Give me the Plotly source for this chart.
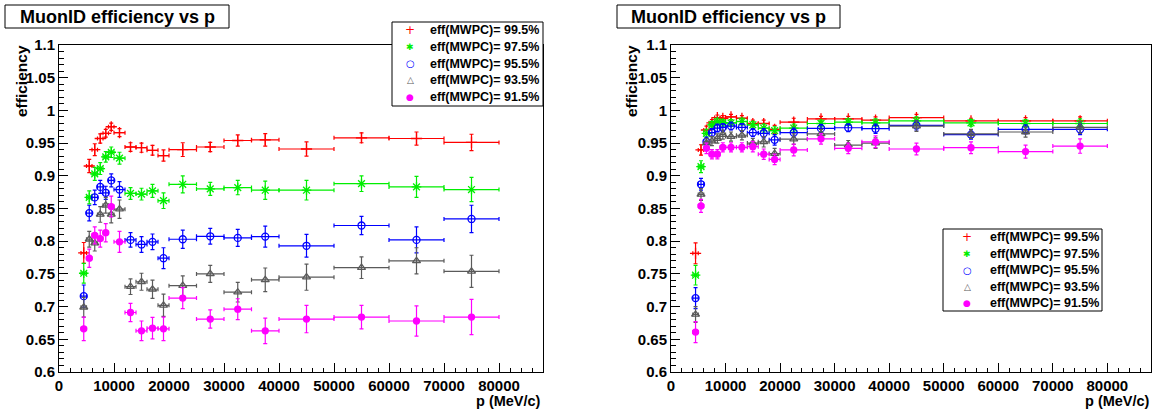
import plotly.graph_objects as go

# ---------------- data ----------------
p_center = [4500, 5500, 6500, 7500, 8500, 9500, 11000, 13000, 15000, 17000, 19000,
            22500, 27500, 32500, 37500, 45000, 55000, 65000, 75000]
p_half = [500, 500, 500, 500, 500, 500, 1000, 1000, 1000, 1000, 1000,
          2500, 2500, 2500, 2500, 5000, 5000, 5000, 5000]

series_names = ["eff(MWPC)= 99.5%", "eff(MWPC)= 97.5%", "eff(MWPC)= 95.5%",
                "eff(MWPC)= 93.5%", "eff(MWPC)= 91.5%"]

# left panel
red_L = [0.782, 0.915, 0.940, 0.957, 0.965, 0.975, 0.966, 0.944, 0.943, 0.939, 0.931,
         0.940, 0.944, 0.954, 0.955, 0.941, 0.958, 0.957, 0.951]
red_L_err = [0.016, 0.010, 0.009, 0.007, 0.006, 0.0055, 0.006, 0.0065, 0.007, 0.0075, 0.0085,
             0.0105, 0.007, 0.0085, 0.0095, 0.011, 0.0075, 0.010, 0.0125]
green_L = [0.751, 0.867, 0.903, 0.911, 0.929, 0.936, 0.927, 0.873, 0.872, 0.877, 0.862,
           0.887, 0.880, 0.882, 0.878, 0.878, 0.888, 0.883, 0.879]
green_L_err = [0.015, 0.010, 0.010, 0.009, 0.008, 0.008, 0.009, 0.009, 0.009, 0.010, 0.012,
               0.013, 0.010, 0.011, 0.014, 0.015, 0.012, 0.016, 0.0185]
blue_L = [0.716, 0.843, 0.867, 0.883, 0.874, 0.893, 0.879, 0.802, 0.795, 0.799, 0.774,
          0.803, 0.8075, 0.805, 0.807, 0.793, 0.824, 0.802, 0.834]
blue_L_err = [0.017, 0.012, 0.011, 0.010, 0.010, 0.010, 0.012, 0.011, 0.012, 0.012, 0.016,
              0.014, 0.012, 0.013, 0.016, 0.0175, 0.014, 0.020, 0.021]
gray_L = [0.699, 0.803, 0.797, 0.841, 0.855, 0.841, 0.849, 0.7305, 0.738, 0.7265, 0.702,
          0.732, 0.750, 0.722, 0.741, 0.745, 0.7595, 0.770, 0.754]
gray_L_err = [0.015, 0.012, 0.012, 0.012, 0.012, 0.013, 0.014, 0.012, 0.013, 0.014, 0.017,
              0.015, 0.013, 0.015, 0.018, 0.020, 0.0165, 0.020, 0.0245]
magenta_L = [0.666, 0.774, 0.809, 0.804, 0.813, 0.853, 0.799, 0.691, 0.663, 0.667, 0.666,
             0.713, 0.681, 0.696, 0.663, 0.681, 0.684, 0.678, 0.684]
magenta_L_err = [0.018, 0.014, 0.013, 0.013, 0.014, 0.016, 0.016, 0.014, 0.015, 0.0165, 0.018,
                 0.016, 0.014, 0.016, 0.0195, 0.021, 0.018, 0.023, 0.027]

# right panel
red_R = [0.7815, 0.9395, 0.970, 0.981, 0.989, 0.988, 0.990, 0.988, 0.980, 0.980, 0.971,
         0.982, 0.987, 0.987, 0.985, 0.989, 0.984, 0.984, 0.984]
red_R_err = [0.016, 0.008, 0.006, 0.005, 0.004, 0.004, 0.004, 0.004, 0.005, 0.005, 0.006,
             0.006, 0.004, 0.004, 0.005, 0.005, 0.004, 0.005, 0.006]
green_R = [0.748, 0.914, 0.965, 0.978, 0.983, 0.981, 0.981, 0.983, 0.978, 0.973, 0.969,
           0.973, 0.980, 0.982, 0.981, 0.984, 0.981, 0.980, 0.980]
green_R_err = [0.015, 0.009, 0.006, 0.005, 0.005, 0.005, 0.005, 0.005, 0.005, 0.006, 0.006,
               0.006, 0.005, 0.005, 0.006, 0.006, 0.005, 0.006, 0.007]
blue_R = [0.713, 0.887, 0.952, 0.966, 0.973, 0.974, 0.976, 0.974, 0.966, 0.965, 0.955,
          0.966, 0.9725, 0.9735, 0.972, 0.977, 0.963, 0.971, 0.971]
blue_R_err = [0.016, 0.009, 0.007, 0.006, 0.006, 0.006, 0.006, 0.006, 0.006, 0.007, 0.008,
              0.007, 0.006, 0.006, 0.007, 0.007, 0.007, 0.007, 0.008]
gray_R = [0.688, 0.8715, 0.950, 0.953, 0.957, 0.963, 0.960, 0.962, 0.950, 0.952, 0.934,
          0.956, 0.964, 0.947, 0.950, 0.976, 0.964, 0.967, 0.974]
gray_R_err = [0.012, 0.009, 0.007, 0.007, 0.007, 0.007, 0.007, 0.007, 0.007, 0.008, 0.008,
              0.008, 0.007, 0.007, 0.008, 0.008, 0.007, 0.008, 0.009]
magenta_R = [0.661, 0.854, 0.942, 0.933, 0.933, 0.9435, 0.9435, 0.9435, 0.9445, 0.933, 0.925,
             0.9395, 0.9565, 0.942, 0.952, 0.941, 0.943, 0.937, 0.9455]
magenta_R_err = [0.016, 0.010, 0.008, 0.007, 0.007, 0.007, 0.007, 0.007, 0.008, 0.008, 0.008,
                 0.009, 0.008, 0.008, 0.009, 0.009, 0.009, 0.010, 0.011]

# ---------------- style ----------------
W, H = 1156, 410
FONT = "Liberation Sans"
colors = ["#ff0000", "#00ee00", "#0000ff", "#5a5a5a", "#ff00ff"]
symbols = ["cross-thin-open", "asterisk-open", "circle-open", "triangle-up-open", "circle"]
sizes = [8, 8, 7, 7, 6]
legend_glyphs = ["+", "\u2731", "\u25CB", "\u25B3", "\u25CF"]
legend_glyph_sizes = [12, 9, 10, 9, 9]


def px(x):
    return x / W


def py(y):
    return 1 - y / H


fig = go.Figure()

panels = [
    ("x", "y", [red_L, green_L, blue_L, gray_L, magenta_L],
     [red_L_err, green_L_err, blue_L_err, gray_L_err, magenta_L_err]),
    ("x2", "y2", [red_R, green_R, blue_R, gray_R, magenta_R],
     [red_R_err, green_R_err, blue_R_err, gray_R_err, magenta_R_err]),
]

for xa, ya, vals, errs in panels:
    for i in range(5):
        fig.add_trace(go.Scatter(
            x=p_center, y=vals[i], xaxis=xa, yaxis=ya, mode="markers",
            name=series_names[i], showlegend=False,
            marker=dict(symbol=symbols[i], size=sizes[i], color=colors[i],
                        line=dict(color=colors[i], width=1.3)),
            error_x=dict(type="data", array=p_half, color=colors[i], thickness=1.2, width=2),
            error_y=dict(type="data", array=errs[i], color=colors[i], thickness=1.2, width=2),
        ))

axis_common = dict(showline=True, mirror=True, linecolor="black", linewidth=1,
                   showgrid=False, zeroline=False, ticks="inside", ticklen=9,
                   tickwidth=1, tickcolor="black", automargin=False,
                   tickfont=dict(family=FONT, size=15, color="black", weight="bold"))

xdom_L = [px(59), px(543)]
xdom_R = [px(671), px(1151)]
ydom = [py(372), py(45)]

xcfg = dict(range=[0, 88000], tickmode="linear", tick0=0, dtick=10000, tickformat="d",
            minor=dict(ticks="inside", ticklen=4.5, dtick=2000, tickcolor="black", tickwidth=1),
            **axis_common)
ycfg = dict(range=[0.6, 1.1], tickmode="linear", tick0=0.6, dtick=0.05,
            minor=dict(ticks="inside", ticklen=4.5, dtick=0.01, tickcolor="black", tickwidth=1),
            ticklabelstandoff=0, **axis_common)

fig.update_layout(
    width=W, height=H, autosize=False,
    margin=dict(l=0, r=0, t=0, b=0, pad=0, autoexpand=False),
    paper_bgcolor="white", plot_bgcolor="white",
    showlegend=False,
    xaxis=dict(domain=xdom_L, anchor="y", **xcfg),
    yaxis=dict(domain=ydom, anchor="x", **ycfg),
    xaxis2=dict(domain=xdom_R, anchor="y2", **xcfg),
    yaxis2=dict(domain=ydom, anchor="x2", **ycfg),
)

shapes = []
annotations = []

# title boxes
for (x0, x1) in [(5, 229), (617, 840)]:
    shapes.append(dict(type="rect", xref="paper", yref="paper",
                       x0=px(x0), x1=px(x1), y0=py(28), y1=py(5),
                       line=dict(color="black", width=1), fillcolor="white", layer="above"))
    annotations.append(dict(xref="paper", yref="paper", x=px((x0 + x1) / 2), y=py(16.5),
                            xanchor="center", yanchor="middle", showarrow=False,
                            text="MuonID efficiency vs p",
                            font=dict(family=FONT, size=18, color="black", weight="bold")))

# axis titles
for xc in [22, 632]:
    annotations.append(dict(xref="paper", yref="paper", x=px(xc), y=py(81),
                            xanchor="center", yanchor="middle", showarrow=False,
                            textangle=-90, text="efficiency",
                            font=dict(family=FONT, size=15.5, color="black", weight="bold")))
for xr in [543, 1152]:
    annotations.append(dict(xref="paper", yref="paper", x=px(xr), y=py(401),
                            xanchor="right", yanchor="middle", showarrow=False,
                            text="p (MeV/c)",
                            font=dict(family=FONT, size=14.5, color="black", weight="bold")))

# legends (box, marker glyph, label)
legends = [
    dict(box=(392, 543, 22, 106), mx=410, tx=428, rows=[30.5, 47, 63.5, 80, 96.5]),
    dict(box=(943, 1102, 229, 311), mx=967, tx=988, rows=[237.5, 254, 270, 286.5, 302.5]),
]
for lg in legends:
    x0, x1, y0, y1 = lg["box"]
    shapes.append(dict(type="rect", xref="paper", yref="paper",
                       x0=px(x0), x1=px(x1), y0=py(y1), y1=py(y0),
                       line=dict(color="black", width=1), fillcolor="white", layer="above"))
    for i, ry in enumerate(lg["rows"]):
        annotations.append(dict(xref="paper", yref="paper", x=px(lg["mx"]), y=py(ry),
                                xanchor="center", yanchor="middle", showarrow=False,
                                text=legend_glyphs[i],
                                font=dict(family="DejaVu Sans", size=legend_glyph_sizes[i],
                                          color=colors[i])))
        annotations.append(dict(xref="paper", yref="paper", x=px(lg["tx"]), y=py(ry),
                                xanchor="left", yanchor="middle", showarrow=False,
                                text=series_names[i],
                                font=dict(family=FONT, size=12.5, color="black", weight="bold")))

fig.update_layout(shapes=shapes, annotations=annotations)

fig.write_html("out.html", config={"responsive": False, "displayModeBar": False},
               post_script="document.body.style.margin='0';document.body.style.overflow='hidden';")
